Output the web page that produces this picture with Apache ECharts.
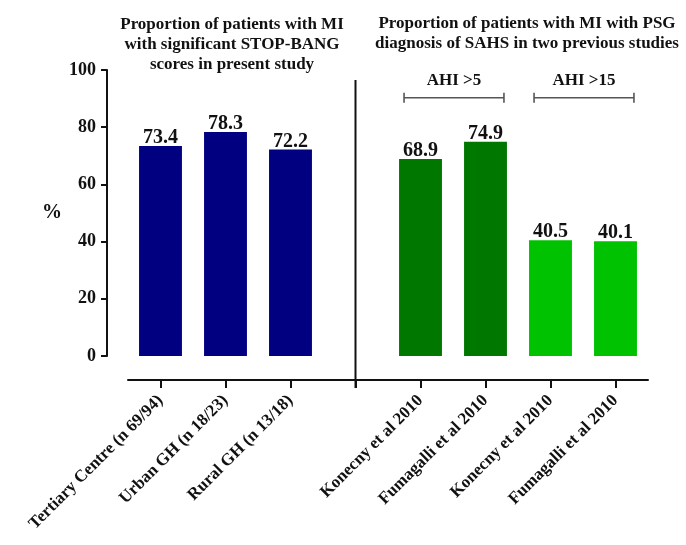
<!DOCTYPE html>
<html><head><meta charset="utf-8">
<script src="https://cdn.jsdelivr.net/npm/echarts@6/dist/echarts.min.js"></script>
<style>html,body{margin:0;padding:0;background:#fff}#c{width:686px;height:545px}</style>
</head><body><div id="c"></div>
<script>
// ---- data ----
const categories = ['Tertiary Centre (n 69/94)', 'Urban GH (n 18/23)', 'Rural GH (n 13/18)', '',
  'Konecny et al 2010', 'Fumagalli et al 2010', 'Konecny et al 2010', 'Fumagalli et al 2010'];
const values = [73.4, 78.3, 72.2, null, 68.9, 74.9, 40.5, 40.1];
const groupOfBar = ['present', 'present', 'present', null, 'ahi5', 'ahi5', 'ahi15', 'ahi15'];
const yTicks = [0, 20, 40, 60, 80, 100];
const leftTitle = 'Proportion of patients with MI\nwith significant STOP-BANG\nscores in present study';
const rightTitle = 'Proportion of patients with MI with PSG\ndiagnosis of SAHS in two previous studies';
const bracketLabels = ['AHI >5', 'AHI >15'];
const bracketFrom = [4, 6];
const bracketTo = [5, 7];
const dividerIndex = 3;

// ---- styles ----
const FONT = 'Liberation Serif';
const palette = { present: '#000080', ahi5: '#007800', ahi15: '#00C200' };
const X_OFFSET = 24;

const chart = echarts.init(document.getElementById('c'), null, { renderer: 'canvas' });

const option = {
  backgroundColor: '#fff',
  animation: false,
  title: [
    { text: leftTitle, left: 227, top: 10, textAlign: 'center',
      textStyle: { fontFamily: FONT, fontWeight: 'bold', fontSize: 17, lineHeight: 20, color: '#111' } },
    { text: rightTitle, left: 522, top: 9, textAlign: 'center',
      textStyle: { fontFamily: FONT, fontWeight: 'bold', fontSize: 17, lineHeight: 20, color: '#111' } }
  ],
  grid: { left: 128, right: 38, top: 70, bottom: 189, containLabel: false },
  xAxis: {
    type: 'category',
    data: categories,
    offset: X_OFFSET,
    axisLine: { onZero: false, lineStyle: { color: '#111', width: 2 } },
    axisTick: { show: true, interval: 0, alignWithLabel: true, inside: false, length: 8, lineStyle: { color: '#111', width: 2 } },
    axisLabel: { rotate: 45, margin: 18, interval: 0, fontFamily: FONT, fontWeight: 'bold', fontSize: 17, color: '#111' }
  },
  yAxis: {
    type: 'value',
    min: yTicks[0], max: yTicks[yTicks.length - 1], interval: yTicks[1] - yTicks[0],
    offset: 21,
    name: '%',
    nameLocation: 'middle',
    nameRotate: 0,
    nameGap: 55,
    nameTextStyle: { fontFamily: FONT, fontWeight: 'bold', fontSize: 20, color: '#111', align: 'center' },
    splitLine: { show: false },
    axisLine: { show: true, lineStyle: { color: '#111', width: 2 } },
    axisTick: { show: true, length: 6, lineStyle: { color: '#111', width: 2 } },
    axisLabel: { margin: 11, fontFamily: FONT, fontWeight: 'bold', fontSize: 18, color: '#111' }
  },
  series: [{
    type: 'bar',
    barWidth: '66%',
    data: values.map((v, i) => ({ value: v, itemStyle: { color: palette[groupOfBar[i]] || 'transparent' } })),
    label: {
      show: true, position: 'top', distance: -2,
      fontFamily: FONT, fontWeight: 'bold', fontSize: 20, color: '#111',
      formatter: p => (p.value == null ? '' : p.value.toFixed(1))
    }
  }]
};
chart.setOption(option);

function buildGraphics() {
  const px = i => chart.convertToPixel({ xAxisIndex: 0 }, i);
  const py = v => chart.convertToPixel({ yAxisIndex: 0 }, v);
  const bandW = px(1) - px(0);
  const half = bandW * 0.66 / 2;
  const axisY = py(0) + X_OFFSET;
  const g = [];
  // vertical divider
  g.push({ type: 'line', shape: { x1: px(dividerIndex), y1: py(96.5), x2: px(dividerIndex), y2: axisY + 8 },
    style: { stroke: '#111', lineWidth: 2 } });
  // brackets
  for (let k = 0; k < bracketLabels.length; k++) {
    const x1 = px(bracketFrom[k]) - half + 5;
    const x2 = px(bracketTo[k]) + half - 3;
    const y = py(90.3);
    const st = { stroke: '#555', lineWidth: 1.6 };
    g.push({ type: 'line', shape: { x1, y1: y, x2, y2: y }, style: st });
    g.push({ type: 'line', shape: { x1, y1: y - 5, x2: x1, y2: y + 5 }, style: st });
    g.push({ type: 'line', shape: { x1: x2, y1: y - 5, x2, y2: y + 5 }, style: st });
    g.push({ type: 'text', x: (x1 + x2) / 2, y: py(96.3),
      style: { text: bracketLabels[k], fontFamily: FONT, fontWeight: 'bold', fontSize: 17, fill: '#111',
        align: 'center', verticalAlign: 'middle' } });
  }
  chart.setOption({ graphic: g });
}
buildGraphics();
</script>
</body></html>
